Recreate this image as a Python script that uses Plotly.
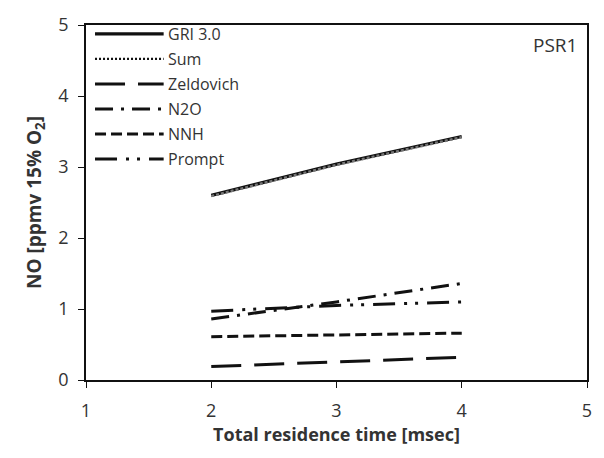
import plotly.graph_objects as go

time_ms = [2, 3, 4]
gri30 = [2.60, 3.04, 3.43]
sum_no = [2.59, 3.03, 3.42]
zeldovich = [0.19, 0.25, 0.32]
n2o = [0.86, 1.10, 1.36]
nnh = [0.61, 0.64, 0.66]
prompt = [0.97, 1.05, 1.10]

names = ["GRI 3.0", "Sum", "Zeldovich", "N2O", "NNH", "Prompt"]
series = [gri30, sum_no, zeldovich, n2o, nnh, prompt]
dashes = ["solid", "3px,2px", "30px,13px", "18px,8px,3px,8px", "11px,5px", "22px,9px,3px,8px,3px,9px"]
widths = [3.2, 2.5, 3, 3, 3, 3]
colors = ["#111111", "#777777", "#111111", "#111111", "#111111", "#111111"]

fig = go.Figure()
for nm, ys, d, w, c in zip(names, series, dashes, widths, colors):
    fig.add_trace(go.Scatter(x=time_ms, y=ys, mode="lines", name=nm,
                             line=dict(color=c, width=w, dash=d), showlegend=False))

# manual legend (long line samples like the original)
font = "Open Sans, Liberation Sans, sans-serif"
leg_y0 = 0.975
leg_dy = 0.0705
for i, (nm, d, w) in enumerate(zip(names, dashes, widths)):
    yy = leg_y0 - i * leg_dy
    fig.add_shape(type="line", xref="paper", yref="paper", x0=0.018, x1=0.155, y0=yy, y1=yy,
                  line=dict(color="#111111", width=w if i != 1 else 2.2,
                            dash=d if i != 1 else "2px,2px"))
    fig.add_annotation(xref="paper", yref="paper", x=0.16, y=yy, text=nm, showarrow=False,
                       xanchor="left", yanchor="middle",
                       font=dict(family=font, size=16, color="#333333"))

fig.add_annotation(xref="paper", yref="paper", x=0.985, y=0.985, text="PSR1", showarrow=False,
                   xanchor="right", yanchor="top", font=dict(family=font, size=19, color="#333333"))

fig.update_layout(
    width=604, height=458,
    margin=dict(l=86, r=16, t=20, b=78),
    paper_bgcolor="white", plot_bgcolor="white",
    font=dict(family=font, size=18, color="#333333"),
    showlegend=False,
)
fig.update_xaxes(range=[1, 5], tickvals=[1, 2, 3, 4, 5], showgrid=False, zeroline=False,
                 showline=True, linecolor="#111111", linewidth=1.5, mirror=True,
                 ticks="outside", ticklen=6, tickcolor="#111111", ticklabelstandoff=8,
                 title=dict(text="<b>Total residence time [msec]</b>", font=dict(size=18, color="#333333"), standoff=2))
fig.update_yaxes(range=[0, 5], tickvals=[0, 1, 2, 3, 4, 5], showgrid=False, zeroline=False,
                 showline=True, linecolor="#111111", linewidth=1.5, mirror=True,
                 ticks="outside", ticklen=6, tickcolor="#111111", ticklabelstandoff=6,
                 title=dict(text="<b>NO [ppmv 15% O<sub>2</sub>]</b>", font=dict(size=19, color="#333333"), standoff=12))

fig.write_html("out.html")
